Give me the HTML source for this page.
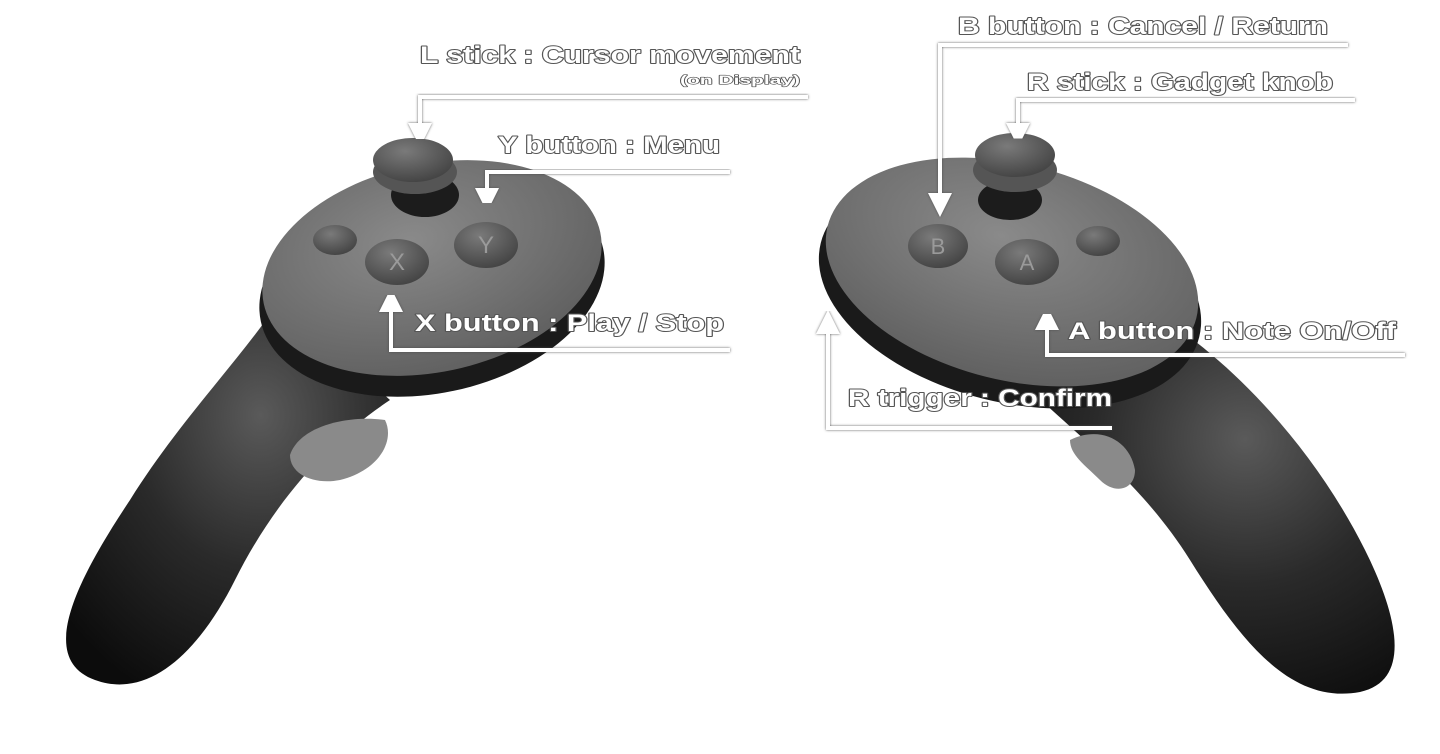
<!DOCTYPE html>
<html><head><meta charset="utf-8"><style>
html,body{margin:0;padding:0;background:#fff;}
svg{display:block}
.t{font-family:"Liberation Sans",sans-serif;font-weight:bold;fill:#fff;stroke:#555;stroke-width:2px;paint-order:stroke;stroke-linejoin:round;}
.l{stroke:#fff;stroke-width:4;fill:none;filter:url(#sh)}
</style></head><body>
<svg width="1440" height="754" viewBox="0 0 1440 754" xmlns="http://www.w3.org/2000/svg">
<defs>
<radialGradient id="grip" cx="0.6" cy="0.3" r="0.8"><stop offset="0" stop-color="#5a5a5a"/><stop offset="0.5" stop-color="#2a2a2a"/><stop offset="1" stop-color="#0c0c0c"/></radialGradient>
<radialGradient id="disc" cx="0.45" cy="0.35" r="0.7"><stop offset="0" stop-color="#8a8a8a"/><stop offset="1" stop-color="#5e5e5e"/></radialGradient>
<radialGradient id="btn" cx="0.4" cy="0.3" r="0.8"><stop offset="0" stop-color="#7a7a7a"/><stop offset="1" stop-color="#3e3e3e"/></radialGradient>
<filter id="sh"><feDropShadow dx="0" dy="0" stdDeviation="1.2" flood-color="#444" flood-opacity="0.9"/></filter>
<marker id="ar" markerWidth="6" markerHeight="6" refX="3" refY="3" orient="auto" markerUnits="strokeWidth"><path d="M0,0 L6,3 L0,6 z" fill="#fff"/></marker>
</defs>

<!-- LEFT CONTROLLER -->
<path d="M280,300 C240,360 180,420 130,500 C70,590 40,660 95,680 C150,700 200,650 235,580 C275,500 330,440 390,400 Z" fill="url(#grip)"/>
<path d="M290,455 C300,425 350,415 385,420 C395,440 380,470 340,480 C315,485 290,475 290,455 Z" fill="#8a8a8a"/>
<ellipse cx="432" cy="285" rx="175" ry="108" transform="rotate(-12 432 285)" fill="#1a1a1a"/>
<ellipse cx="432" cy="268" rx="172" ry="104" transform="rotate(-12 432 268)" fill="url(#disc)"/>
<ellipse cx="425" cy="195" rx="34" ry="22" fill="#1c1c1c"/>
<ellipse cx="415" cy="172" rx="42" ry="22" fill="#555"/>
<ellipse cx="413" cy="160" rx="40" ry="22" fill="url(#btn)"/>
<ellipse cx="335" cy="240" rx="22" ry="15" fill="url(#btn)"/>
<ellipse cx="397" cy="262" rx="32" ry="23" fill="url(#btn)"/>
<text x="397" y="270" font-family="Liberation Sans" font-size="24" fill="#9a9a9a" text-anchor="middle">X</text>
<ellipse cx="486" cy="245" rx="32" ry="23" fill="url(#btn)"/>
<text x="486" y="253" font-family="Liberation Sans" font-size="24" fill="#9a9a9a" text-anchor="middle">Y</text>

<!-- RIGHT CONTROLLER -->
<path d="M1020,380 C1070,430 1140,480 1190,560 C1240,640 1290,705 1360,692 C1415,680 1395,610 1365,550 C1320,460 1250,380 1180,330 Z" fill="url(#grip)"/>
<path d="M1070,440 C1100,425 1130,440 1135,470 C1135,490 1115,495 1100,480 C1085,465 1070,455 1070,440 Z" fill="#8a8a8a"/>
<ellipse cx="1010" cy="290" rx="195" ry="112" transform="rotate(14 1010 290)" fill="#1a1a1a"/>
<ellipse cx="1012" cy="272" rx="190" ry="108" transform="rotate(14 1012 272)" fill="url(#disc)"/>
<ellipse cx="1010" cy="200" rx="32" ry="20" fill="#1c1c1c"/>
<ellipse cx="1015" cy="170" rx="42" ry="22" fill="#555"/>
<ellipse cx="1015" cy="155" rx="40" ry="22" fill="url(#btn)"/>
<ellipse cx="938" cy="246" rx="30" ry="22" fill="url(#btn)"/>
<text x="938" y="254" font-family="Liberation Sans" font-size="22" fill="#9a9a9a" text-anchor="middle">B</text>
<ellipse cx="1027" cy="262" rx="32" ry="23" fill="url(#btn)"/>
<text x="1027" y="270" font-family="Liberation Sans" font-size="22" fill="#9a9a9a" text-anchor="middle">A</text>
<ellipse cx="1098" cy="241" rx="22" ry="15" fill="url(#btn)"/>

<!-- CONNECTORS -->
<path class="l" d="M808,97 H420 V135" marker-end="url(#ar)"/>
<path class="l" d="M730,172 H487 V200" marker-end="url(#ar)"/>
<path class="l" d="M730,350 H391 V300" marker-end="url(#ar)"/>
<path class="l" d="M1348,45 H940 V205" marker-end="url(#ar)"/>
<path class="l" d="M1355,100 H1018 V135" marker-end="url(#ar)"/>
<path class="l" d="M1405,355 H1047 V318" marker-end="url(#ar)"/>
<path class="l" d="M1112,428 H828 V322" marker-end="url(#ar)"/>

<!-- LABELS -->
<text class="t" x="420" y="63" font-size="24" textLength="380" lengthAdjust="spacingAndGlyphs">L stick : Cursor movement</text>
<text class="t" x="680" y="84" font-size="12" textLength="120" lengthAdjust="spacingAndGlyphs" style="stroke-width:1.2px">(on Display)</text>
<text class="t" x="498" y="153" font-size="24" textLength="222" lengthAdjust="spacingAndGlyphs">Y button : Menu</text>
<text class="t" x="415" y="331" font-size="24" textLength="309" lengthAdjust="spacingAndGlyphs">X button : Play / Stop</text>
<text class="t" x="958" y="34" font-size="24" textLength="370" lengthAdjust="spacingAndGlyphs">B button : Cancel / Return</text>
<text class="t" x="1027" y="90" font-size="24" textLength="306" lengthAdjust="spacingAndGlyphs">R stick : Gadget knob</text>
<text class="t" x="1068" y="339" font-size="24" textLength="328" lengthAdjust="spacingAndGlyphs">A button : Note On/Off</text>
<text class="t" x="848" y="406" font-size="24" textLength="264" lengthAdjust="spacingAndGlyphs">R trigger : Confirm</text>
</svg>
</body></html>
